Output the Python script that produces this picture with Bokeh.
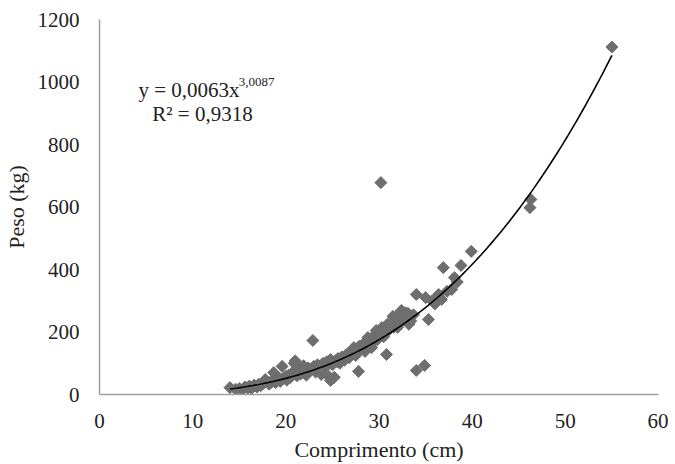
import numpy as np
from bokeh.plotting import figure
from bokeh.models import Range1d, Label, FixedTicker, ColumnDataSource
from bokeh.embed import file_html
from bokeh.resources import INLINE

# Comprimento (cm)
comprimento = [14.0, 14.6, 15.0, 15.3, 15.6, 15.9, 16.1, 16.3, 16.6, 16.9, 17.1, 17.3, 17.6, 17.8, 18.0,
               18.2, 18.5, 18.7, 18.9, 19.0, 19.2, 19.4, 19.6, 19.8, 20.0, 20.1, 20.3, 20.5, 20.7, 20.9,
               21.0, 21.2, 21.4, 21.6, 21.8, 22.0, 22.2, 22.4, 22.6, 22.9, 23.0, 23.2, 23.4, 23.6, 23.8,
               24.0, 24.2, 24.4, 24.6, 24.8, 24.8, 25.0, 25.2, 25.3, 25.6, 25.8, 26.0, 26.3, 26.5, 26.8,
               27.0, 27.3, 27.5, 27.8, 27.9, 28.0, 28.3, 28.5, 28.8, 29.0, 29.2, 29.5, 29.8, 30.0, 30.2,
               30.3, 30.5, 30.8, 30.9, 31.0, 31.3, 31.6, 31.9, 32.1, 32.3, 32.4, 32.6, 32.9, 33.1, 33.4,
               33.7, 34.0, 34.0, 34.9, 35.0, 35.3, 35.7, 36.0, 36.4, 36.7, 36.9, 37.3, 37.8, 38.1, 38.4,
               38.8, 39.9, 46.3, 46.2, 55.0,
               16.0, 17.0, 18.4, 19.5, 20.4, 21.5, 22.3, 23.5, 24.5, 25.5, 26.2, 27.2, 28.2, 29.3, 30.6,
               31.5, 32.0, 32.8, 33.2, 29.7, 28.6, 26.7, 23.1, 21.9]
# Peso (kg)
peso = [22, 17, 19, 14, 24, 21, 27, 19, 30, 24, 33, 28, 36, 48, 40,
        33, 44, 70, 38, 47, 55, 42, 90, 52, 58, 46, 62, 55, 70, 100,
        108, 60, 75, 66, 82, 72, 62, 85, 78, 173, 90, 72, 95, 82, 64,
        100, 88, 105, 58, 112, 45, 95, 55, 108, 115, 100, 120, 110, 128, 118,
        135, 150, 125, 74, 155, 145, 160, 138, 182, 165, 150, 190, 175, 200, 678,
        214, 185, 128, 225, 205, 230, 215, 245, 256, 230, 269, 250, 240, 260, 235,
        255, 320, 77, 93, 310, 240, 300, 290, 320, 304, 406, 330, 336, 374, 360,
        413, 458, 624, 598, 1112,
        23, 30, 38, 48, 56, 68, 75, 88, 95, 105, 118, 130, 148, 168, 195,
        250, 215, 262, 225, 205, 170, 130, 80, 92]

# Power trend line coefficients shown on the chart
coef_a = 0.0063
coef_b = 3.0087
trend_x = np.linspace(min(comprimento), max(comprimento), 200)
trend_y = coef_a * trend_x ** coef_b

x_ticks = [0, 10, 20, 30, 40, 50, 60]
y_ticks = [0, 200, 400, 600, 800, 1000, 1200]

FONT = "Times New Roman"

p = figure(frame_width=559, frame_height=375, output_backend="svg", toolbar_location=None,
           x_range=Range1d(0, 60), y_range=Range1d(0, 1200),
           min_border_left=90, min_border_right=10, min_border_top=19, min_border_bottom=10)
p.outline_line_color = None
p.grid.visible = False
p.background_fill_color = "white"
p.border_fill_color = "white"

src = ColumnDataSource(dict(x=comprimento, y=peso))
p.scatter("x", "y", source=src, marker="square", angle=np.pi / 4, size=8.5,
          fill_color="#6e6e6e", line_color="#6e6e6e")
p.line(trend_x, trend_y, line_color="black", line_width=1.6)

for ax in (p.xaxis[0], p.yaxis[0]):
    ax.axis_line_color = "#a0a0a0"
    ax.axis_line_width = 1.5
    ax.major_tick_line_color = None
    ax.minor_tick_line_color = None
    ax.major_label_text_font = FONT
    ax.major_label_text_font_size = "21px"
    ax.major_label_text_color = "#222222"
    ax.axis_label_text_font = FONT
    ax.axis_label_text_font_size = "22px"
    ax.axis_label_text_font_style = "normal"
    ax.axis_label_text_color = "#222222"

p.xaxis.ticker = FixedTicker(ticks=x_ticks)
p.yaxis.ticker = FixedTicker(ticks=y_ticks)
p.xaxis.axis_label = "Comprimento (cm)"
p.yaxis.axis_label = "Peso (kg)"
p.xaxis.major_label_standoff = 13
p.yaxis.major_label_standoff = 14
p.xaxis.axis_label_standoff = 6
p.yaxis.axis_label_standoff = 6

p.add_layout(Label(x=4.18, y=973, text="y = 0,0063x", text_font=FONT, text_font_size="21px",
                   text_color="#222222", text_baseline="alphabetic", text_align="left"))
p.add_layout(Label(x=14.95, y=1000, text="3,0087", text_font=FONT, text_font_size="13px",
                   text_color="#222222", text_baseline="alphabetic", text_align="left"))
p.add_layout(Label(x=11.05, y=899, text="R² = 0,9318", text_font=FONT, text_font_size="21px",
                   text_color="#222222", text_baseline="alphabetic", text_align="center"))

open("out.html", "w").write(file_html(p, INLINE))
